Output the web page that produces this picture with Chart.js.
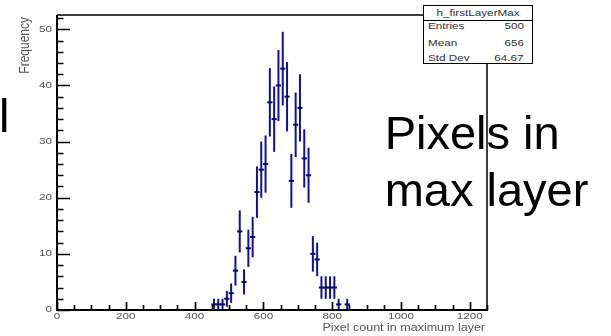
<!DOCTYPE html>
<html>
<head>
<meta charset="utf-8">
<script src="https://cdn.jsdelivr.net/npm/chart.js@4.4.1/dist/chart.umd.min.js"></script>
<style>
  html, body { margin: 0; padding: 0; background: #fff; overflow: hidden; }
  #wrap { position: relative; width: 611px; height: 336px; }
  canvas { display: block; position: absolute; left: 0; top: 0; }
  .big {
    position: absolute; font-family: "Liberation Sans", Arial, sans-serif;
    font-size: 47px; line-height: 56.7px; color: #000; white-space: nowrap;
  }
  #stats {
    position: absolute; left: 423px; top: 5px; width: 108px; height: 57px;
    border: 1.5px solid #000; background: #fff;
    font-family: "Liberation Sans", Arial, sans-serif; font-size: 9px; color: #333;
  }
  #stats .sep { position: absolute; left: 0; right: 0; top: 13.5px; border-top: 1.5px solid #000; }
  #stats .t { position: absolute; left: 0; right: 0; top: 2px; text-align: center; }
  #stats .t span { display: inline-block; transform: scaleX(1.3); }
  #stats .k { position: absolute; left: 4px; transform: scaleX(1.3); transform-origin: left center; }
  #stats .v { position: absolute; right: 8px; transform: scaleX(1.3); transform-origin: right center; }
</style>
</head>
<body>
<div id="wrap">
  <canvas id="chart" width="611" height="336"></canvas>
  <div id="stats">
    <div class="t"><span>h_firstLayerMax</span></div>
    <div class="sep"></div>
    <span class="k" style="top:15px">Entries</span><span class="v" style="top:15px">500</span>
    <span class="k" style="top:32px">Mean</span><span class="v" style="top:32px">656</span>
    <span class="k" style="top:47px">Std Dev</span><span class="v" style="top:47px">64.67</span>
  </div>
  <div class="big" style="left:-1px; top:88.4px;">l</div>
  <div class="big" style="left:384.7px; top:105.4px;">Pixels in<br>max layer</div>
</div>
<script>
// Histogram of pixel counts in the layer with the most hits (bin width 12.5)
const binCenters = [456.25, 468.75, 481.25, 493.75, 506.25, 518.75, 531.25, 543.75,
                    556.25, 568.75, 581.25, 593.75, 606.25, 618.75, 631.25, 643.75,
                    656.25, 668.75, 681.25, 693.75, 706.25, 718.75, 731.25, 743.75,
                    756.25, 768.75, 781.25, 793.75, 806.25, 818.75, 843.75];
const counts     = [1, 1, 1, 2, 3, 7, 14, 5,
                    11, 13, 21, 25, 26, 37, 34, 40,
                    43, 38, 23, 33, 36, 27, 24, 10,
                    9, 4, 4, 4, 4, 1, 1];
const binWidth = 12.5;

// Axis labelling
const xTickLabels = ["0", "200", "400", "600", "800", "1000", "1200"];
const xTickValues = [0, 200, 400, 600, 800, 1000, 1200];
const yTickLabels = ["0", "10", "20", "30", "40", "50"];
const yTickValues = [0, 10, 20, 30, 40, 50];
const xTitle = "Pixel count in maximum layer";
const yTitle = "Frequency";

const X_MIN = 0, X_MAX = 1250, Y_MIN = 0, Y_MAX = 52.55;
const markerColor = "#10109c";

// Poisson error bars: vertical segment n ± sqrt(n)
const errorBars = {
  id: "errorBars",
  beforeDatasetsDraw(chart) {
    const { ctx, scales: { x, y } } = chart;
    ctx.save();
    ctx.strokeStyle = markerColor;
    ctx.lineWidth = 2;
    binCenters.forEach((c, i) => {
      const n = counts[i];
      const e = Math.sqrt(n);
      const px = x.getPixelForValue(c);
      ctx.beginPath();
      ctx.moveTo(px, y.getPixelForValue(Math.max(n - e, 0)));
      ctx.lineTo(px, y.getPixelForValue(n + e));
      ctx.stroke();
    });
    ctx.restore();
  }
};

// Frame, inward ticks and stretched labels in the style of a ROOT canvas
const rootFrame = {
  id: "rootFrame",
  afterDraw(chart) {
    const { ctx, chartArea: a, scales: { x, y } } = chart;
    ctx.save();
    ctx.strokeStyle = "#000";
    // frame
    ctx.lineWidth = 1.5;
    ctx.beginPath();
    ctx.moveTo(a.left, a.top); ctx.lineTo(a.right, a.top);
    ctx.moveTo(a.right, a.top); ctx.lineTo(a.right, a.bottom);
    ctx.stroke();
    ctx.lineWidth = 2;
    ctx.beginPath();
    ctx.moveTo(a.left, a.top); ctx.lineTo(a.left, a.bottom);
    ctx.moveTo(a.left - 1, a.bottom); ctx.lineTo(a.right + 1, a.bottom);
    ctx.stroke();

    // y ticks (major every 10, minor every 2)
    ctx.lineWidth = 1.7;
    ctx.beginPath();
    for (let v = Y_MIN; v <= Y_MAX; v += 2) {
      const py = Math.round(y.getPixelForValue(v)) + 0.5;
      const len = v % 10 === 0 ? 13 : 6.5;
      ctx.moveTo(a.left, py); ctx.lineTo(a.left + len, py);
    }
    ctx.stroke();
    // x ticks (major every 200, minor every 50)
    ctx.beginPath();
    for (let v = X_MIN; v <= X_MAX; v += 50) {
      const px = Math.round(x.getPixelForValue(v)) + 0.5;
      const len = v % 200 === 0 ? 8 : 5;
      ctx.moveTo(px, a.bottom); ctx.lineTo(px, a.bottom - len);
    }
    ctx.stroke();

    // labels
    ctx.fillStyle = "#555";
    ctx.font = '9px "Liberation Sans", Arial, sans-serif';
    ctx.textBaseline = "middle";
    yTickValues.forEach((v, i) => {
      ctx.save();
      ctx.translate(a.left - 5, y.getPixelForValue(v));
      ctx.scale(1.3, 1);
      ctx.textAlign = "right";
      ctx.fillText(yTickLabels[i], 0, 0);
      ctx.restore();
    });
    xTickValues.forEach((v, i) => {
      ctx.save();
      ctx.translate(x.getPixelForValue(v), a.bottom + 7);
      ctx.scale(1.3, 1);
      ctx.textAlign = "center";
      ctx.fillText(xTickLabels[i], 0, 0);
      ctx.restore();
    });
    // axis titles
    ctx.save();
    ctx.font = '10px "Liberation Sans", Arial, sans-serif';
    ctx.translate(a.right - 2, a.bottom + 18);
    ctx.scale(1.25, 1);
    ctx.textAlign = "right";
    ctx.fillText(xTitle, 0, 0);
    ctx.restore();

    ctx.save();
    ctx.font = '12px "Liberation Sans", Arial, sans-serif';
    ctx.translate(25, a.top + 2);
    ctx.scale(1.25, 1);
    ctx.rotate(-Math.PI / 2);
    ctx.textAlign = "right";
    ctx.fillText(yTitle, 0, 0);
    ctx.restore();
    ctx.restore();
  }
};

new Chart(document.getElementById("chart"), {
  type: "scatter",
  data: {
    datasets: [{
      data: binCenters.map((c, i) => ({ x: c, y: counts[i] })),
      pointStyle: "line",
      pointRadius: 2.6,
      pointHoverRadius: 2.6,
      borderColor: "#0a0a60",
      backgroundColor: "#0a0a60",
      borderWidth: 2
    }]
  },
  options: {
    responsive: false,
    animation: false,
    events: [],
    layout: { padding: { left: 57, right: 124, top: 15, bottom: 26 } },
    plugins: { legend: { display: false }, tooltip: { enabled: false } },
    scales: {
      x: { type: "linear", min: X_MIN, max: X_MAX, display: false },
      y: { type: "linear", min: Y_MIN, max: Y_MAX, display: false }
    }
  },
  plugins: [errorBars, rootFrame]
});
</script>
</body>
</html>
